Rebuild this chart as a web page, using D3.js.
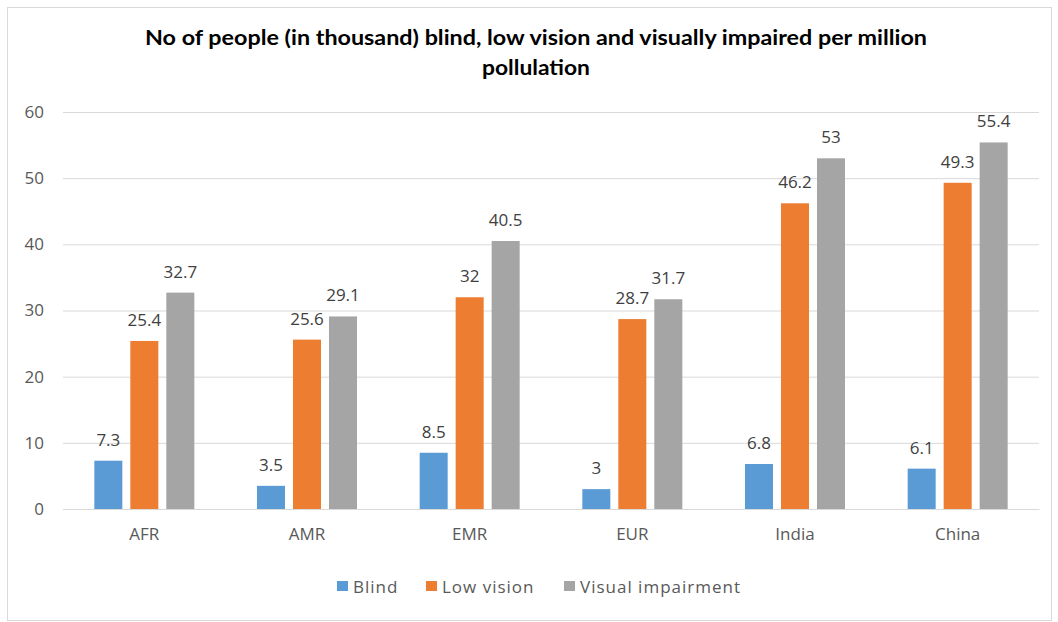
<!DOCTYPE html>
<html>
<head>
<meta charset="utf-8">
<script src="https://cdn.jsdelivr.net/npm/d3@7"></script>
<style>
  html, body { margin: 0; padding: 0; background: #fff; }
  svg { display: block; }
  text { font-family: "Open Sans", Lato, sans-serif; }
</style>
</head>
<body>
<svg id="chart" width="1058" height="622"></svg>
<script>
const categories = ["AFR", "AMR", "EMR", "EUR", "India", "China"];
const seriesNames = ["Blind", "Low vision", "Visual impairment"];
const blind = [7.3, 3.5, 8.5, 3, 6.8, 6.1];
const lowVision = [25.4, 25.6, 32, 28.7, 46.2, 49.3];
const visualImpairment = [32.7, 29.1, 40.5, 31.7, 53, 55.4];
const yTicks = [0, 10, 20, 30, 40, 50, 60];
const titleLines = ["No of people (in thousand) blind, low vision and visually impaired per million", "pollulation"];
const colors = ["#5B9BD5", "#ED7D31", "#A5A5A5"];

const seriesValues = [blind, lowVision, visualImpairment];

const svg = d3.select("#chart");
const W = 1058, H = 622;

// chart border
svg.append("rect").attr("x", 7.5).attr("y", 7.5).attr("width", W - 14).attr("height", H - 9)
  .attr("fill", "#fff").attr("stroke", "#D9D9D9").attr("stroke-width", 1);

const plot = { left: 63, right: 1039, top: 112, bottom: 509 };

const x0 = d3.scaleBand().domain(categories).range([plot.left, plot.right]).padding(0);
const groupW = 100;
const x1 = d3.scaleBand().domain(seriesNames)
  .range([(x0.bandwidth() - groupW) / 2, (x0.bandwidth() + groupW) / 2])
  .paddingInner(0.222).paddingOuter(0);
const y = d3.scaleLinear().domain([0, 60]).range([plot.bottom, plot.top]);

// gridlines + y labels
const yAxis = d3.axisLeft(y).tickValues(yTicks).tickSize(-(plot.right - plot.left)).tickPadding(19).tickFormat(d3.format("d"));
const gy = svg.append("g").attr("transform", `translate(${plot.left},0)`).call(yAxis);
gy.select(".domain").remove();
gy.selectAll(".tick line").attr("stroke", "#D9D9D9").attr("stroke-width", 1);
gy.selectAll(".tick text").attr("fill", "#595959").style("font-size", "17px");

// x axis labels
const xAxis = d3.axisBottom(x0).tickSize(0).tickPadding(19);
const gx = svg.append("g").attr("transform", `translate(0,${plot.bottom})`).call(xAxis);
gx.select(".domain").attr("stroke", "#D9D9D9");
gx.selectAll(".tick text").attr("fill", "#595959").style("font-size", "17px");

// bars
const groups = svg.append("g").selectAll("g").data(categories).join("g")
  .attr("transform", d => `translate(${x0(d)},0)`);

groups.selectAll("rect")
  .data((c, i) => seriesNames.map((s, j) => ({ s, j, v: seriesValues[j][i] })))
  .join("rect")
  .attr("x", d => x1(d.s))
  .attr("width", x1.bandwidth())
  .attr("y", d => y(d.v))
  .attr("height", d => y(0) - y(d.v))
  .attr("fill", d => colors[d.j]);

groups.selectAll("text.lbl")
  .data((c, i) => seriesNames.map((s, j) => ({ s, j, v: seriesValues[j][i] })))
  .join("text")
  .attr("class", "lbl")
  .attr("x", d => x1(d.s) + x1.bandwidth() / 2)
  .attr("y", d => y(d.v) - 15)
  .attr("text-anchor", "middle")
  .attr("fill", "#404040")
  .style("font-size", "17px")
  .text(d => d.v);

// title
const titleLen = [782, 108];
const title = svg.append("text").attr("text-anchor", "middle")
  .attr("fill", "#000").style("font-size", "21px").style("font-weight", "bold")
  .style("font-family", "Lato, sans-serif");
titleLines.forEach((t, i) => {
  title.append("tspan").attr("x", 536).attr("y", 45 + i * 30)
    .attr("textLength", titleLen[i]).attr("lengthAdjust", "spacingAndGlyphs").text(t);
});

// legend
const legendX = [337, 426, 564];
const lg = svg.append("g").selectAll("g").data(seriesNames).join("g")
  .attr("transform", (d, i) => `translate(${legendX[i]},581)`);
lg.append("rect").attr("width", 11).attr("height", 10).attr("fill", (d, i) => colors[i]);
lg.append("text").attr("x", 16).attr("y", 12).attr("fill", "#595959")
  .style("font-size", "17px").style("letter-spacing", "1px").text(d => d);
</script>
</body>
</html>
